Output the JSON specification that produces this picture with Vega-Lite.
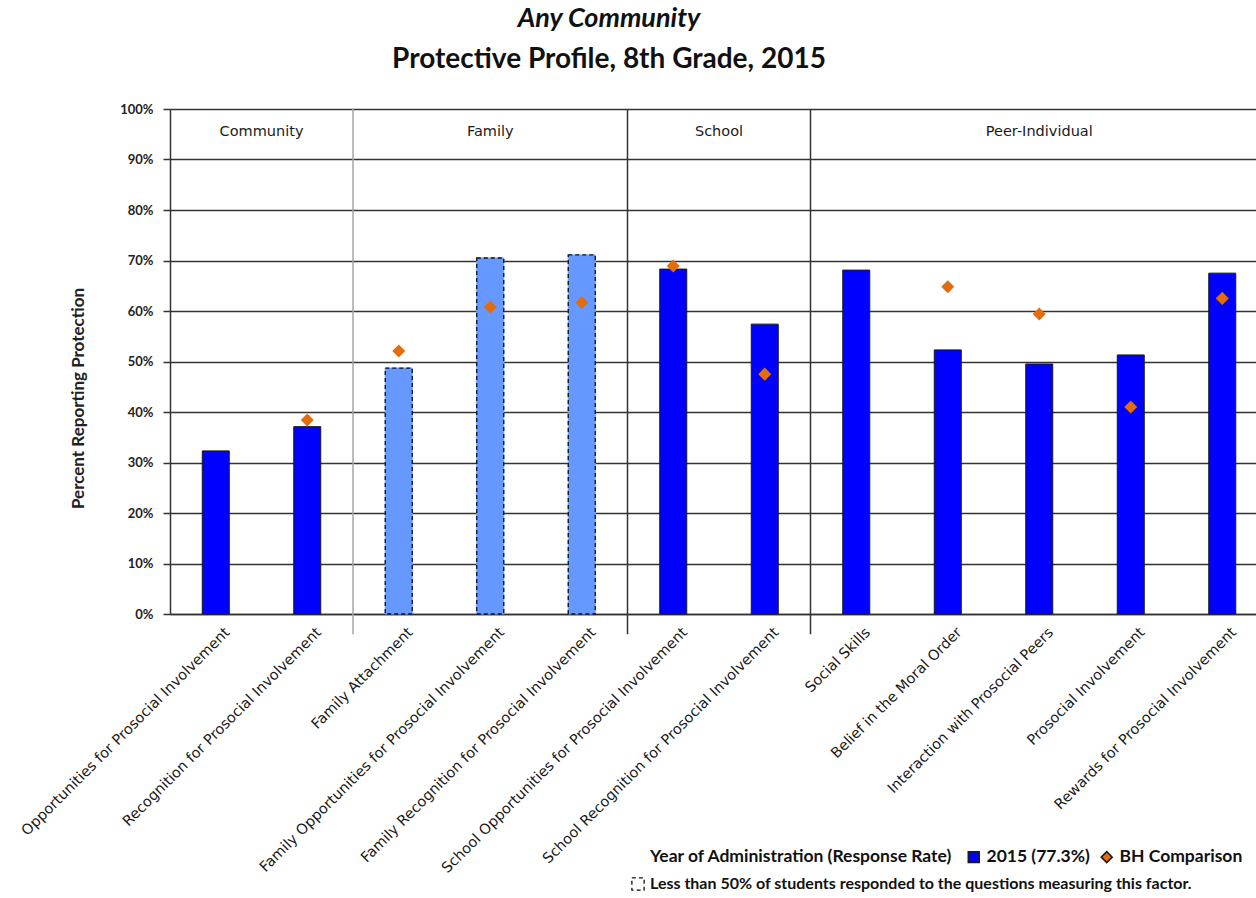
{
  "$schema": "https://vega.github.io/schema/vega-lite/v6.json",
  "width": 1098,
  "height": 505,
  "autosize": {"type": "none"},
  "padding": {"left": 170, "top": 109, "right": 0, "bottom": 284},
  "background": "white",
  "title": {
    "text": "Any Community",
    "subtitle": "Protective Profile, 8th Grade, 2015",
    "font": "Lato",
    "fontSize": 27,
    "fontStyle": "italic",
    "fontWeight": "bold",
    "color": "#111111",
    "subtitleFont": "Lato",
    "subtitleFontSize": 28,
    "subtitleFontWeight": "bold",
    "subtitleColor": "#111111",
    "subtitlePadding": 13,
    "anchor": "middle",
    "dx": -110,
    "offset": 28
  },
  "config": {
    "view": {"stroke": null},
    "axis": {"labelColor": "#222222", "titleColor": "#222222"}
  },
  "datasets": {
    "factors": [
      {"factor": "Opportunities for Prosocial Involvement", "group": "Community", "series": "2015 (77.3%)", "value": 32.3, "response": "ok"},
      {"factor": "Recognition for Prosocial Involvement", "group": "Community", "series": "2015 (77.3%)", "value": 37.1, "response": "ok"},
      {"factor": "Family Attachment", "group": "Family", "series": "2015 (77.3%)", "value": 48.7, "response": "low"},
      {"factor": "Family Opportunities for Prosocial Involvement", "group": "Family", "series": "2015 (77.3%)", "value": 70.5, "response": "low"},
      {"factor": "Family Recognition for Prosocial Involvement", "group": "Family", "series": "2015 (77.3%)", "value": 71.1, "response": "low"},
      {"factor": "School Opportunities for Prosocial Involvement", "group": "School", "series": "2015 (77.3%)", "value": 68.3, "response": "ok"},
      {"factor": "School Recognition for Prosocial Involvement", "group": "School", "series": "2015 (77.3%)", "value": 57.4, "response": "ok"},
      {"factor": "Social Skills", "group": "Peer-Individual", "series": "2015 (77.3%)", "value": 68.1, "response": "ok"},
      {"factor": "Belief in the Moral Order", "group": "Peer-Individual", "series": "2015 (77.3%)", "value": 52.3, "response": "ok"},
      {"factor": "Interaction with Prosocial Peers", "group": "Peer-Individual", "series": "2015 (77.3%)", "value": 49.5, "response": "ok"},
      {"factor": "Prosocial Involvement", "group": "Peer-Individual", "series": "2015 (77.3%)", "value": 51.3, "response": "ok"},
      {"factor": "Rewards for Prosocial Involvement", "group": "Peer-Individual", "series": "2015 (77.3%)", "value": 67.5, "response": "ok"},
      {"factor": "Recognition for Prosocial Involvement", "group": "Community", "series": "BH Comparison", "value": 38.4},
      {"factor": "Family Attachment", "group": "Family", "series": "BH Comparison", "value": 52.1},
      {"factor": "Family Opportunities for Prosocial Involvement", "group": "Family", "series": "BH Comparison", "value": 60.8},
      {"factor": "Family Recognition for Prosocial Involvement", "group": "Family", "series": "BH Comparison", "value": 61.7},
      {"factor": "School Opportunities for Prosocial Involvement", "group": "School", "series": "BH Comparison", "value": 68.9},
      {"factor": "School Recognition for Prosocial Involvement", "group": "School", "series": "BH Comparison", "value": 47.5},
      {"factor": "Belief in the Moral Order", "group": "Peer-Individual", "series": "BH Comparison", "value": 64.8},
      {"factor": "Interaction with Prosocial Peers", "group": "Peer-Individual", "series": "BH Comparison", "value": 59.4},
      {"factor": "Prosocial Involvement", "group": "Peer-Individual", "series": "BH Comparison", "value": 41.0},
      {"factor": "Rewards for Prosocial Involvement", "group": "Peer-Individual", "series": "BH Comparison", "value": 62.5}
    ],
    "dividers": [
      {"factor": "Family Attachment"},
      {"factor": "School Opportunities for Prosocial Involvement"},
      {"factor": "Social Skills"}
    ],
    "groups": [
      {"group": "Community", "factor": "Opportunities for Prosocial Involvement", "edge": true},
      {"group": "Family", "factor": "Family Opportunities for Prosocial Involvement", "edge": false},
      {"group": "School", "factor": "School Opportunities for Prosocial Involvement", "edge": true},
      {"group": "Peer-Individual", "factor": "Interaction with Prosocial Peers", "edge": false}
    ]
  },
  "layer": [
    {
      "data": {"name": "factors"},
      "transform": [{"filter": "datum.series === '2015 (77.3%)'"}],
      "mark": {"type": "bar", "size": 27, "strokeWidth": 1},
      "encoding": {
        "x": {
          "field": "factor",
          "type": "nominal",
          "scale": {
            "domain": [
              "Opportunities for Prosocial Involvement",
              "Recognition for Prosocial Involvement",
              "Family Attachment",
              "Family Opportunities for Prosocial Involvement",
              "Family Recognition for Prosocial Involvement",
              "School Opportunities for Prosocial Involvement",
              "School Recognition for Prosocial Involvement",
              "Social Skills",
              "Belief in the Moral Order",
              "Interaction with Prosocial Peers",
              "Prosocial Involvement",
              "Rewards for Prosocial Involvement"
            ],
            "paddingInner": 0,
            "paddingOuter": 0
          },
          "axis": {
            "title": null,
            "ticks": false,
            "domainColor": "#333333",
            "domainWidth": 1.5,
            "labelAngle": -45,
            "labelAlign": "right",
            "labelBaseline": "middle",
            "labelFont": "DejaVu Sans",
            "labelFontSize": 14.5,
            "labelColor": "#1a1a1a",
            "labelPadding": 16,
            "labelOffset": 12,
            "labelLimit": 400
          }
        },
        "y": {
          "field": "value",
          "type": "quantitative",
          "scale": {"domain": [0, 100], "nice": false},
          "axis": {
            "title": "Percent Reporting Protection",
            "titleFont": "Lato",
            "titleFontSize": 17,
            "titleFontWeight": "bold",
            "titleAngle": -90,
            "titleX": -92,
            "titleY": 289,
            "titleAlign": "center",
            "titleBaseline": "middle",
            "values": [0, 10, 20, 30, 40, 50, 60, 70, 80, 90, 100],
            "labelExpr": "datum.value + '%'",
            "labelFont": "Lato",
            "labelFontSize": 13,
            "labelFontWeight": "bold",
            "labelPadding": 10,
            "tickSize": 7,
            "tickColor": "#333333",
            "tickWidth": 1.5,
            "domainColor": "#333333",
            "domainWidth": 1.5,
            "grid": true,
            "gridColor": "#333333",
            "gridWidth": 1.5
          }
        },
        "color": {
          "condition": {"test": "datum.response === 'low'", "value": "#6699FF"},
          "field": "series",
          "type": "nominal",
          "scale": {"domain": ["2015 (77.3%)", "BH Comparison"], "range": ["#0000FF", "#E46C0A"]},
          "legend": {
            "title": "Year of Administration  (Response Rate)",
            "orient": "none",
            "legendX": 480,
            "legendY": 739,
            "direction": "horizontal",
            "titleOrient": "left",
            "titleBaseline": "middle",
            "titleLimit": 600,
            "titleFont": "Lato",
            "titleFontSize": 17.5,
            "titleFontWeight": "bold",
            "titleColor": "#111111",
            "titlePadding": 8,
            "labelFont": "Lato",
            "labelFontSize": 17.5,
            "labelFontWeight": "bold",
            "labelColor": "#111111",
            "labelLimit": 300,
            "symbolSize": 120,
            "columnPadding": 8
          }
        },
        "stroke": {
          "condition": {"test": "datum.response === 'low'", "value": "#6699FF"},
          "value": "#1a1a1a"
        }
      }
    },
    {
      "data": {"name": "factors"},
      "transform": [{"filter": "datum.response === 'low'"}],
      "mark": {"type": "bar", "size": 27, "fill": "transparent", "stroke": "#111111", "strokeWidth": 1.3},
      "encoding": {
        "x": {"field": "factor", "type": "nominal"},
        "y": {"field": "value", "type": "quantitative"},
        "strokeDash": {
          "field": "response",
          "type": "nominal",
          "scale": {"domain": ["low"], "range": [[4, 3]]},
          "legend": {
            "title": null,
            "orient": "none",
            "legendX": 460,
            "legendY": 767,
            "labelExpr": "'Less than 50% of students responded to the questions measuring this factor.'",
            "labelFont": "Lato",
            "labelFontSize": 16,
            "labelFontWeight": "bold",
            "labelColor": "#111111",
            "labelLimit": 800,
            "symbolType": "square",
            "symbolSize": 150,
            "symbolStrokeColor": "#111111",
            "symbolStrokeWidth": 1.3
          }
        }
      }
    },
    {
      "data": {"name": "factors"},
      "transform": [{"filter": "datum.series === 'BH Comparison'"}],
      "mark": {"type": "point", "filled": true, "size": 170, "opacity": 1},
      "encoding": {
        "x": {"field": "factor", "type": "nominal"},
        "y": {"field": "value", "type": "quantitative"},
        "color": {
          "field": "series",
          "type": "nominal",
          "legend": {"title": "Year of Administration  (Response Rate)"}
        },
        "shape": {
          "field": "series",
          "type": "nominal",
          "scale": {"domain": ["2015 (77.3%)", "BH Comparison"], "range": ["square", "diamond"]},
          "legend": {"title": "Year of Administration  (Response Rate)"}
        }
      }
    },
    {
      "data": {"name": "dividers"},
      "mark": {"type": "rule", "strokeWidth": 1.5},
      "encoding": {
        "x": {"field": "factor", "type": "nominal", "bandPosition": 0},
        "y": {"datum": 100},
        "y2": {"datum": -4},
        "color": {
          "condition": {"test": "datum.factor === 'Family Attachment'", "value": "#A6A6A6"},
          "value": "#333333"
        }
      }
    },
    {
      "data": {"name": "groups"},
      "transform": [{"filter": "datum.edge"}],
      "mark": {"type": "text", "font": "DejaVu Sans", "fontSize": 14.5, "color": "#1a1a1a", "align": "center", "baseline": "middle"},
      "encoding": {
        "x": {"field": "factor", "type": "nominal", "bandPosition": 1},
        "y": {"datum": 95.5},
        "text": {"field": "group"}
      }
    },
    {
      "data": {"name": "groups"},
      "transform": [{"filter": "!datum.edge"}],
      "mark": {"type": "text", "font": "DejaVu Sans", "fontSize": 14.5, "color": "#1a1a1a", "align": "center", "baseline": "middle"},
      "encoding": {
        "x": {"field": "factor", "type": "nominal", "bandPosition": 0.5},
        "y": {"datum": 95.5},
        "text": {"field": "group"}
      }
    }
  ]
}
